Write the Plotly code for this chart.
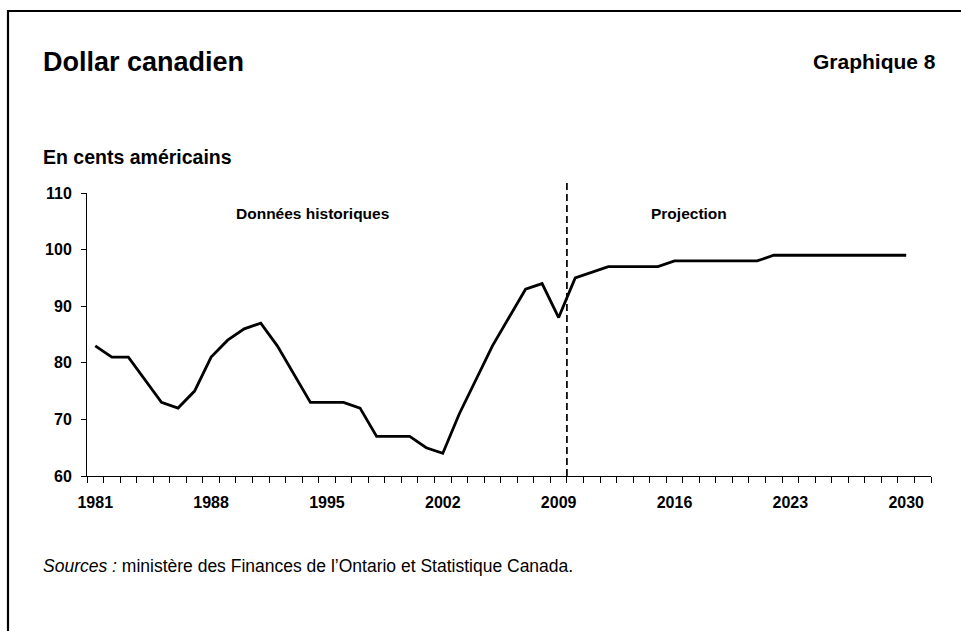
import plotly.graph_objects as go

# Canadian dollar, in US cents (historical 1981-2009, projection 2010-2030)
years = list(range(1981, 2031))
cents = [83, 81, 81, 77, 73, 72, 75, 81, 84, 86,
         87, 83, 78, 73, 73, 73, 72, 67, 67, 67,
         65, 64, 71, 77, 83, 88, 93, 94, 88, 95,
         96, 97, 97, 97, 97, 98, 98, 98, 98, 98,
         98, 99, 99, 99, 99, 99, 99, 99, 99, 99]
label_years = [1981, 1988, 1995, 2002, 2009, 2016, 2023, 2030]
y_ticks = [60, 70, 80, 90, 100, 110]
split_year = 2009.5

W, H = 961, 631
L, R, T, B = 87, 30, 193, 155
PW, PH = W - L - R, H - T - B

FONT = "Liberation Sans, Arial, sans-serif"


def px(x):
    return (x - L) / PW


def py(y):
    return (H - B - y) / PH


fig = go.Figure()
fig.add_trace(go.Scatter(
    x=years, y=cents, mode="lines",
    line=dict(color="black", width=2.8),
    showlegend=False, hoverinfo="x+y",
))

fig.update_layout(
    width=W, height=H,
    margin=dict(l=L, r=R, t=T, b=B, pad=0),
    paper_bgcolor="white", plot_bgcolor="white",
    font=dict(family=FONT, color="black"),
    xaxis=dict(
        range=[1980.5, 2031.5],
        tickmode="array", tickvals=label_years,
        ticktext=[str(v) for v in label_years],
        ticks="", showgrid=False, zeroline=False,
        showline=True, linecolor="black", linewidth=1,
        tickfont=dict(family=FONT, size=16, color="black", weight="bold"),
        ticklabelstandoff=12,
        minor=dict(tickmode="linear", tick0=1980.5, dtick=1,
                   ticks="outside", ticklen=6, tickcolor="black",
                   tickwidth=1, showgrid=False),
    ),
    yaxis=dict(
        range=[60, 110], tickmode="array", tickvals=y_ticks,
        ticks="outside", ticklen=5, tickcolor="black", tickwidth=1,
        showgrid=False, zeroline=False,
        showline=True, linecolor="black", linewidth=1,
        tickfont=dict(family=FONT, size=16, color="black", weight="bold"),
        ticklabelstandoff=6,
    ),
)

# projection boundary
fig.add_shape(type="line", xref="x", yref="paper",
              x0=split_year, x1=split_year, y0=0, y1=py(180),
              line=dict(color="black", width=1.7, dash="7px,4px"))

# frame lines (top and left)
fig.add_shape(type="line", xref="paper", yref="paper",
              x0=px(7), x1=px(W + 2), y0=py(11), y1=py(11),
              line=dict(color="black", width=2.2))
fig.add_shape(type="line", xref="paper", yref="paper",
              x0=px(8), x1=px(8), y0=py(10), y1=py(H + 2),
              line=dict(color="black", width=2.2))

annotations = [
    dict(text="<b>Dollar canadien</b>", x=px(41), y=py(62),
         xanchor="left", yanchor="middle", font=dict(size=27)),
    dict(text="<b>Graphique 8</b>", x=px(938), y=py(61),
         xanchor="right", yanchor="middle", font=dict(size=21)),
    dict(text="<b>En cents américains</b>", x=px(41), y=py(157),
         xanchor="left", yanchor="middle", font=dict(size=19.5)),
    dict(text="<b>Données historiques</b>", x=1994.1, y=106.4,
         xref="x", yref="y", xanchor="center", yanchor="middle",
         font=dict(size=15.5)),
    dict(text="<b>Projection</b>", x=2016.9, y=106.4,
         xref="x", yref="y", xanchor="center", yanchor="middle",
         font=dict(size=15.5)),
    dict(text="<i>Sources :</i> ministère des Finances de l’Ontario et Statistique Canada.",
         x=px(41), y=py(566), xanchor="left", yanchor="middle",
         font=dict(size=17.5)),
]
for a in annotations:
    a.setdefault("xref", "paper")
    a.setdefault("yref", "paper")
    a["showarrow"] = False
    a["font"] = dict(family=FONT, color="black", **a["font"])
    fig.add_annotation(**a)

fig.write_html("out.html")
